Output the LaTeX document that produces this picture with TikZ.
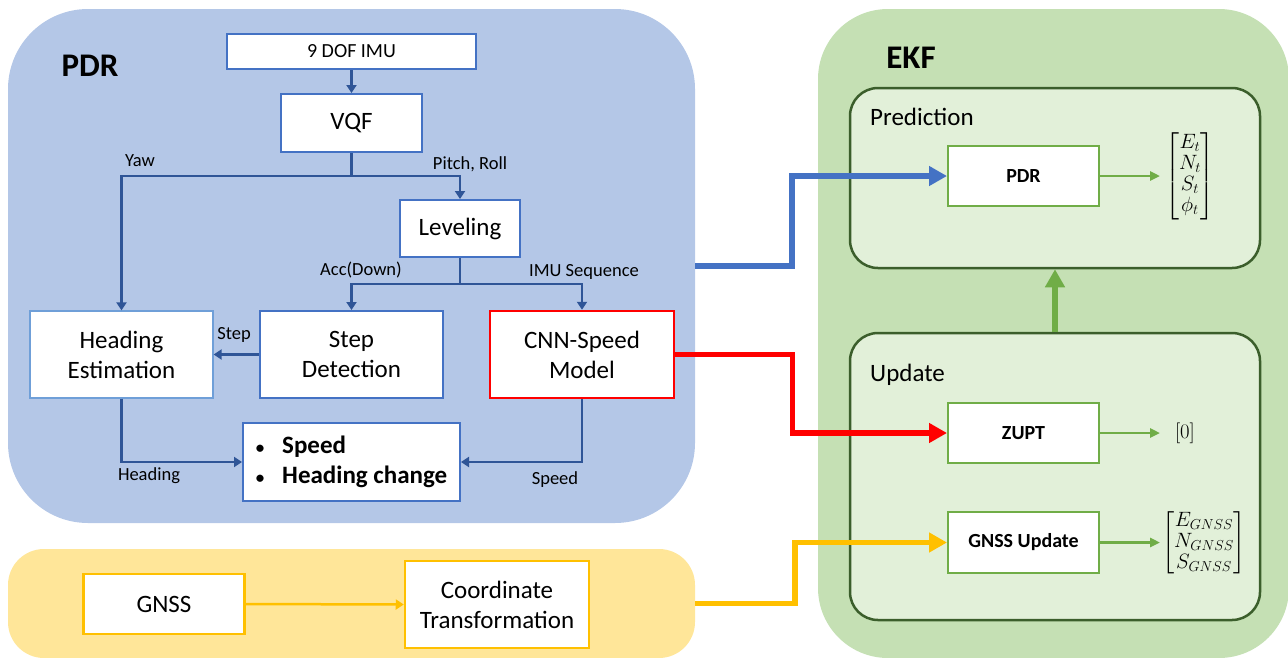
\documentclass[tikz,border=0pt]{standalone}
\usepackage{amsmath}
\usepackage{fontspec}
\setmainfont{Carlito}
\usetikzlibrary{arrows.meta}
\definecolor{pdrfill}{HTML}{B4C7E7}
\definecolor{ekffill}{HTML}{C5E0B4}
\definecolor{gnssfill}{HTML}{FFE699}
\definecolor{innerfill}{HTML}{E2F0D9}
\definecolor{innerborder}{HTML}{3B5E2B}
\definecolor{bborder}{HTML}{4472C4}
\definecolor{lborder}{HTML}{6F9FD8}
\definecolor{bline}{HTML}{2F5597}
\definecolor{gline}{HTML}{70AD47}
\definecolor{yline}{HTML}{FFC000}
\definecolor{rline}{HTML}{FF0000}
\newcommand{\smallbul}{{\fontsize{17}{17}\selectfont\textbullet}}
\tikzset{
  region/.style={inner sep=0pt, draw=none, rounded corners=#1},
  phase/.style={draw=innerborder, line width=2.5pt, fill=innerfill, rounded corners=28pt, inner sep=0pt},
  bbox/.style={draw=bborder, line width=2pt, fill=white, inner sep=0pt, align=center, font=\fontsize{25}{30}\selectfont},
  gbox/.style={draw=gline, line width=2pt, fill=white, inner sep=0pt, align=center, font=\fontsize{20}{24}\selectfont\bfseries, minimum width=151pt, minimum height=60pt},
  ybox/.style={draw=yline, line width=2.5pt, fill=white, inner sep=0pt, align=center, font=\fontsize{25}{30}\selectfont},
  lbl/.style={inner sep=0pt, font=\fontsize{18.5}{20}\selectfont},
  title/.style={inner sep=0pt, font=\fontsize{33}{36}\selectfont\bfseries},
  sub/.style={inner sep=0pt, anchor=west, font=\fontsize{25}{30}\selectfont},
  mathtxt/.style={inner sep=0pt, font=\fontsize{20}{21}\selectfont},
  conn/.style={draw=bline, line width=2.5pt, -{Triangle[length=8pt,width=10pt]}},
  plainconn/.style={draw=bline, line width=2.5pt},
  gconn/.style={draw=gline, line width=2.5pt, -{Triangle[length=10pt,width=9pt]}},
  fat/.style={line width=5.5pt, -{Triangle[length=18pt,width=19pt]}}
}
\begin{document}
\begin{tikzpicture}[x=1pt,y=-1pt]
\useasboundingbox (0,0) rectangle (1288,657);
% regions
\node[region=80pt, fill=pdrfill, minimum width=687pt, minimum height=514pt] (pdrreg) at (351.5,266) {};
\node[region=36pt, fill=gnssfill, minimum width=687pt, minimum height=109pt] (gnssreg) at (351.5,603.5) {};
\node[region=70pt, fill=ekffill, minimum width=471pt, minimum height=649pt] (ekfreg) at (1053.5,333.5) {};
\node[title] (pdrtitle) at (90,66) {PDR};
\node[title] (ekftitle) at (911,58) {EKF};
% EKF inner
\node[phase, minimum width=410pt, minimum height=180pt] (pred) at (1055,178) {};
\node[phase, minimum width=410pt, minimum height=287pt] (upd) at (1055,476.5) {};
\node[sub] (predlbl) at (870,117) {Prediction};
\node[sub] (updlbl) at (870,375) {Update};
% PDR boxes
\node[bbox, minimum width=249pt, minimum height=35pt, font=\fontsize{20}{24}\selectfont] (imu) at (351.5,51.5) {9 DOF IMU};
\node[bbox, minimum width=141pt, minimum height=58pt] (vqf) at (351.5,123) {VQF};
\node[bbox, minimum width=120pt, minimum height=57pt] (lev) at (460,228.5) {Leveling};
\node[bbox, draw=lborder, line width=1.2pt, minimum width=183pt, minimum height=87pt] (head) at (121.5,354.5) {Heading\\Estimation};
\node[bbox, minimum width=183pt, minimum height=87pt] (step) at (351.5,354.5) {Step\\Detection};
\node[bbox, draw=rline, line width=2.5pt, minimum width=184pt, minimum height=87pt] (cnn) at (582,354.5) {CNN-Speed\\Model};
\node[bbox, minimum width=217pt, minimum height=78pt, font=\fontsize{25}{30}\selectfont\bfseries] (out) at (351.5,462)
  {\begin{tabular}{@{}l@{\hspace{18pt}}l@{}}\smallbul & Speed\\ \smallbul & Heading change\end{tabular}};
% GNSS boxes
\node[ybox, minimum width=161pt, minimum height=60pt] (gnss) at (164,604) {GNSS};
\node[ybox, minimum width=184pt, minimum height=87pt] (coord) at (497,604.5) {Coordinate\\Transformation};
% PDR connectors
\coordinate (br1) at (351.5,176);
\coordinate (br2) at (460,284);
\draw[conn] (imu.south) -- (vqf.north);
\draw[plainconn] (vqf.south) -- (br1);
\draw[conn] (br1) -| (head.north);
\draw[conn] (br1) -| (lev.north);
\draw[plainconn] (lev.south) -- (br2);
\draw[conn] (br2) -| (step.north);
\draw[conn] (br2) -| (cnn.north);
\draw[conn] (step.west) -- (head.east);
\draw[conn] (head.south) |- (out.west);
\draw[conn] (cnn.south) |- (out.east);
\draw[draw=yline, line width=2.5pt, -{Triangle[length=8pt,width=10pt]}] (gnss.east) -- (coord.west);
% labels
\node[lbl] (lyaw) at (140,161) {Yaw};
\node[lbl] (lpr) at (470,164) {Pitch, Roll};
\node[lbl] (lacc) at (361,270) {Acc(Down)};
\node[lbl] (limu) at (584,272) {IMU Sequence};
\node[lbl] (lstep) at (234,335) {Step};
\node[lbl] (lhead) at (149,476) {Heading};
\node[lbl] (lspeed) at (555,480) {Speed};
% EKF boxes
\node[gbox] (epdr) at (1023.5,176) {PDR};
\node[gbox] (zupt) at (1023.5,433) {ZUPT};
\node[gbox, minimum height=61pt] (gupd) at (1023.5,542.5) {GNSS Update};
% outputs
\node[mathtxt] (vpred) at (1190,176) {$\begin{bmatrix}E_t\\N_t\\S_t\\\phi_t\end{bmatrix}$};
\node[mathtxt] (vzupt) at (1185,433) {$[0]$};
\node[mathtxt] (vgnss) at (1204,543) {$\begin{bmatrix}E_{GNSS}\\N_{GNSS}\\S_{GNSS}\end{bmatrix}$};
\draw[gconn] (epdr.east) -- ++(60,0);
\draw[gconn] (zupt.east) -- ++(60,0);
\draw[gconn] (gupd.east) -- ++(60,0);
\draw[draw=gline, fat] (upd.north) -- (pred.south);
% thick cross connectors
\draw[draw=bborder, fat] (pdrreg.east) -- ++(97,0) |- (epdr.west);
\draw[draw=rline, fat] (cnn.east) -- ++(117,0) |- (zupt.west);
\draw[draw=yline, fat] (gnssreg.east) -- ++(100,0) |- (gupd.west);
\end{tikzpicture}
\end{document}
